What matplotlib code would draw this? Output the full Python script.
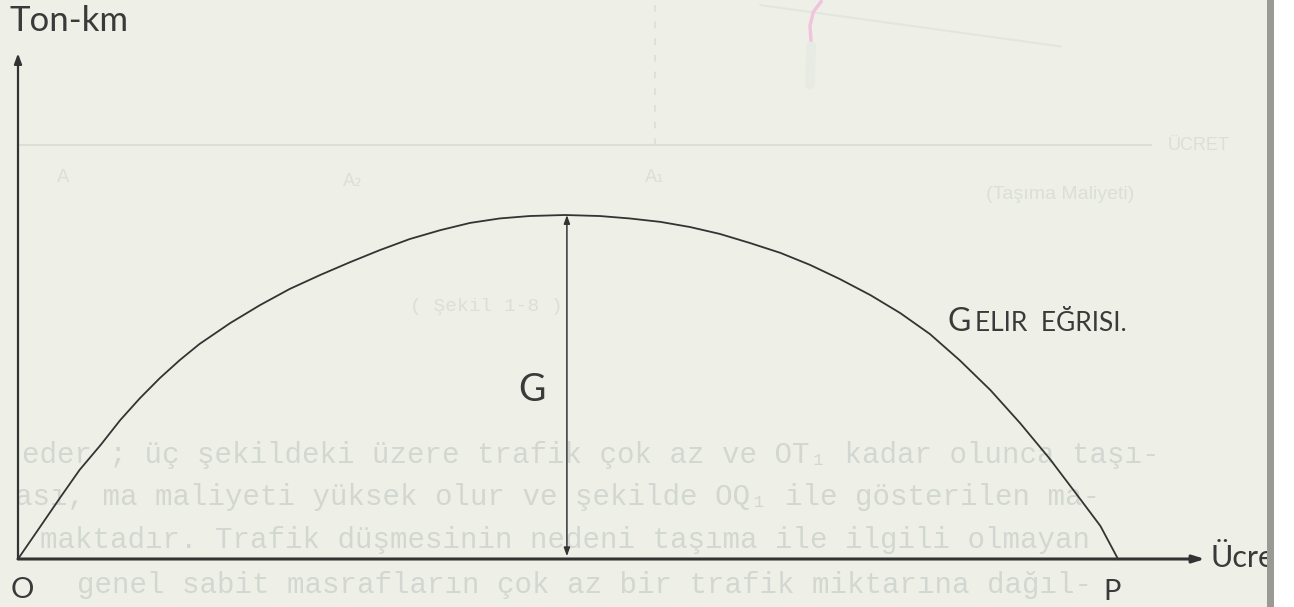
import matplotlib
matplotlib.use('Agg')
import matplotlib.pyplot as plt

# ucret (price) vs ton-km revenue curve
ucret = [0, 2.0, 3.8, 5.6, 7.5, 9.3, 11.1, 12.9, 14.7, 16.5, 19.3, 22.0, 24.7,
         27.5, 30.2, 32.9, 35.6, 38.4, 41.1, 43.8, 46.5, 49.7, 52.9, 55.6, 58.4,
         61.1, 63.8, 66.5, 69.3, 72.0, 74.7, 77.5, 80.2, 82.9, 85.6, 88.4, 91.1,
         93.8, 96.5, 98.4, 100]
gelir = [0, 9.3, 17.7, 25.9, 33.1, 40.4, 46.8, 52.6, 57.8, 62.5, 68.6, 73.8, 78.5,
         82.6, 86.3, 89.8, 93.0, 95.6, 97.7, 99.0, 99.7, 100, 99.7, 99.0, 98.0,
         96.5, 94.5, 91.9, 89.0, 85.5, 81.4, 76.7, 71.5, 65.4, 57.8, 49.1, 39.5,
         29.1, 17.7, 9.6, 0]

peak_x = 49.9
peak_y = 100
p_x = 100

# faint typed text showing through from the other side of the page
ghost_lines = [
    "eder ; üç şekildeki üzere trafik çok az ve OT₁ kadar olunca taşı-",
    "ası, ma maliyeti yüksek olur ve şekilde OQ₁ ile gösterilen ma-",
    "maktadır. Trafik düşmesinin nedeni taşıma ile ilgili olmayan",
    "genel sabit masrafların çok az bir trafik miktarına dağıl-",
]
ghost_y = [30.2, 18.0, 5.5, -7.6]
ghost_end = [103.8, 98.4, 97.5, 97.6]

bg = '#eef0e7'
ink = '#333333'
ghost = '#dadfd8'

fig = plt.figure(figsize=(12.94, 6.07), dpi=100, facecolor=bg)
ax = fig.add_axes([0, 0, 1, 1], facecolor=bg)
ax.set_xlim(-18 / 11, (1294 - 18) / 11)
ax.set_ylim((559 - 607) / 3.44, 559 / 3.44)
ax.axis('off')

# ghost drawing from the previous figure
ax.plot([0.2, 103], [120.3, 120.3], color=ghost, lw=1.5, zorder=1)
ax.plot([57.9, 57.9], [120.3, 162], color=ghost, lw=1.2, ls=(0, (4, 6)), zorder=1)
ax.plot([67.5, 94.8], [161, 149], color='#e2e6e0', lw=1.5, zorder=1)
ax.plot([73.0, 72.3, 72.0, 72.1], [162, 159, 155, 150], color='#f1c4de', lw=2.5, zorder=1)
ax.plot([72.1, 72.0], [149, 138], color='#e8eae4', lw=7, zorder=1, solid_capstyle='round')
ax.text(104.5, 120.3, "ÜCRET", color=ghost, fontsize=13, va='center', family='Liberation Sans')
ax.text(88.0, 106, "(Taşıma Maliyeti)", color=ghost, fontsize=14, va='center', family='Liberation Sans')
ax.text(3.5, 111, "A", color=ghost, fontsize=13, va='center')
ax.text(29.5, 110, "A₂", color=ghost, fontsize=13, va='center')
ax.text(57.0, 111, "A₁", color=ghost, fontsize=13, va='center')
ax.text(35.6, 73.5, "( Şekil 1-8 )", color=ghost, fontsize=14, va='center', family='Liberation Mono')
for gx, gy, line in zip(ghost_end, ghost_y, ghost_lines):
    ax.text(gx, gy, line, color='#d3d7d1', fontsize=21, va='center', ha='right',
            family=['Liberation Mono', 'DejaVu Sans Mono'], zorder=1)

# axes with arrows
ax.annotate('', xy=(0, 147), xytext=(0, 0),
            arrowprops=dict(arrowstyle='-|>,head_length=0.6,head_width=0.22',
                            color=ink, lw=1.6, shrinkA=0, shrinkB=0), zorder=3)
ax.annotate('', xy=(107.9, 0), xytext=(0, 0),
            arrowprops=dict(arrowstyle='-|>,head_length=0.7,head_width=0.22',
                            color=ink, lw=2.2, shrinkA=0, shrinkB=0), zorder=3)

# revenue curve
ax.plot(ucret, gelir, color=ink, lw=1.3, zorder=4, solid_joinstyle='round')

# G : maximum revenue
ax.annotate('', xy=(peak_x, peak_y), xytext=(peak_x, 0.8),
            arrowprops=dict(arrowstyle='<|-|>,head_length=0.5,head_width=0.18',
                            color=ink, lw=1.1, shrinkA=0, shrinkB=0), zorder=4)

hand = dict(color='#3a3a3a', family=['Lato', 'DejaVu Sans'])
ax.text(-0.8, 156.5, "Ton-km", fontsize=25, va='center', ha='left', **hand)
ax.text(0.4, -9.0, "O", fontsize=21, va='center', ha='center', **hand)
ax.text(p_x - 0.5, -9.6, "P", fontsize=21, va='center', ha='center', **hand)
ax.text(46.7, 49.1, "G", fontsize=27, va='center', ha='center', **hand)
ax.text(84.5, 68.9, "G", fontsize=23, va='center', ha='left', **hand)
ax.text(87.0, 68.6, "ELIR  EĞRISI.", fontsize=19, va='center', ha='left', **hand)
ax.text(108.4, 0.3, "Ücret", fontsize=22, va='center', ha='left', **hand)

# page edge of the scan
ax.axvspan((1267 - 18) / 11, (1274 - 18) / 11, color='#9a9a95', zorder=6, lw=0)
ax.axvspan((1274 - 18) / 11, (1300 - 18) / 11, color='white', zorder=6, lw=0)

fig.savefig('out.png', dpi=100, facecolor=bg)
